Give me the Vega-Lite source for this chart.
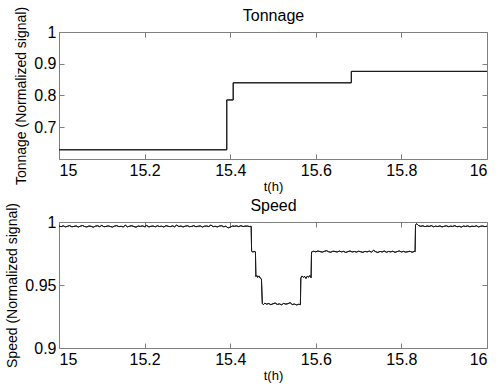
{
  "$schema": "https://vega.github.io/schema/vega-lite/v6.json",
  "padding": {"left": 5, "top": 5, "right": 0, "bottom": 2},
  "bounds": "flush",
  "spacing": 63,
  "background": "white",
  "datasets": {
    "tonnage": [
      {"t": 15.000, "v": 0.629},
      {"t": 15.392, "v": 0.786},
      {"t": 15.407, "v": 0.840},
      {"t": 15.683, "v": 0.876},
      {"t": 16.000, "v": 0.876}
    ],
    "speed": [
      {"t": 15.000, "v": 0.9968}, {"t": 15.005, "v": 0.9963}, {"t": 15.010, "v": 0.9970}, {"t": 15.015, "v": 0.9961},
      {"t": 15.020, "v": 0.9966}, {"t": 15.025, "v": 0.9971}, {"t": 15.030, "v": 0.9962}, {"t": 15.035, "v": 0.9965},
      {"t": 15.040, "v": 0.9969}, {"t": 15.045, "v": 0.9960}, {"t": 15.050, "v": 0.9967}, {"t": 15.055, "v": 0.9972},
      {"t": 15.060, "v": 0.9964}, {"t": 15.065, "v": 0.9961}, {"t": 15.070, "v": 0.9968}, {"t": 15.075, "v": 0.9966},
      {"t": 15.080, "v": 0.9959}, {"t": 15.085, "v": 0.9967}, {"t": 15.090, "v": 0.9970}, {"t": 15.095, "v": 0.9963},
      {"t": 15.100, "v": 0.9973}, {"t": 15.105, "v": 0.9962}, {"t": 15.110, "v": 0.9965}, {"t": 15.115, "v": 0.9969},
      {"t": 15.120, "v": 0.9964}, {"t": 15.125, "v": 0.9960}, {"t": 15.130, "v": 0.9968}, {"t": 15.135, "v": 0.9971},
      {"t": 15.140, "v": 0.9963}, {"t": 15.145, "v": 0.9966}, {"t": 15.150, "v": 0.9961}, {"t": 15.155, "v": 0.9974},
      {"t": 15.160, "v": 0.9962}, {"t": 15.165, "v": 0.9967}, {"t": 15.170, "v": 0.9970}, {"t": 15.175, "v": 0.9964},
      {"t": 15.180, "v": 0.9959}, {"t": 15.185, "v": 0.9968}, {"t": 15.190, "v": 0.9965}, {"t": 15.195, "v": 0.9969},
      {"t": 15.200, "v": 0.9963}, {"t": 15.205, "v": 0.9972}, {"t": 15.210, "v": 0.9961}, {"t": 15.215, "v": 0.9966},
      {"t": 15.220, "v": 0.9968}, {"t": 15.225, "v": 0.9962}, {"t": 15.230, "v": 0.9970}, {"t": 15.235, "v": 0.9964},
      {"t": 15.240, "v": 0.9967}, {"t": 15.245, "v": 0.9960}, {"t": 15.250, "v": 0.9971}, {"t": 15.255, "v": 0.9966},
      {"t": 15.260, "v": 0.9963}, {"t": 15.265, "v": 0.9969}, {"t": 15.270, "v": 0.9962}, {"t": 15.275, "v": 0.9975},
      {"t": 15.280, "v": 0.9964}, {"t": 15.285, "v": 0.9968}, {"t": 15.290, "v": 0.9961}, {"t": 15.295, "v": 0.9967},
      {"t": 15.300, "v": 0.9970}, {"t": 15.305, "v": 0.9963}, {"t": 15.310, "v": 0.9965}, {"t": 15.315, "v": 0.9971},
      {"t": 15.320, "v": 0.9962}, {"t": 15.325, "v": 0.9966}, {"t": 15.330, "v": 0.9969}, {"t": 15.335, "v": 0.9960},
      {"t": 15.340, "v": 0.9967}, {"t": 15.345, "v": 0.9968}, {"t": 15.350, "v": 0.9964}, {"t": 15.355, "v": 0.9976},
      {"t": 15.360, "v": 0.9963}, {"t": 15.365, "v": 0.9966}, {"t": 15.370, "v": 0.9961}, {"t": 15.375, "v": 0.9968},
      {"t": 15.380, "v": 0.9970}, {"t": 15.385, "v": 0.9962}, {"t": 15.390, "v": 0.9967}, {"t": 15.395, "v": 0.9953},
      {"t": 15.400, "v": 0.9959}, {"t": 15.405, "v": 0.9968}, {"t": 15.410, "v": 0.9966}, {"t": 15.415, "v": 0.9969},
      {"t": 15.420, "v": 0.9963}, {"t": 15.425, "v": 0.9971}, {"t": 15.430, "v": 0.9964}, {"t": 15.435, "v": 0.9967},
      {"t": 15.440, "v": 0.9968}, {"t": 15.445, "v": 0.9964}, {"t": 15.449, "v": 0.9966},
      {"t": 15.450, "v": 0.9768}, {"t": 15.453, "v": 0.9762}, {"t": 15.456, "v": 0.9766}, {"t": 15.459, "v": 0.9763},
      {"t": 15.460, "v": 0.9568}, {"t": 15.462, "v": 0.9575}, {"t": 15.464, "v": 0.9560}, {"t": 15.467, "v": 0.9572},
      {"t": 15.470, "v": 0.9555}, {"t": 15.473, "v": 0.9548},
      {"t": 15.475, "v": 0.9352}, {"t": 15.478, "v": 0.9345}, {"t": 15.481, "v": 0.9356}, {"t": 15.485, "v": 0.9348},
      {"t": 15.490, "v": 0.9353}, {"t": 15.495, "v": 0.9344}, {"t": 15.500, "v": 0.9351}, {"t": 15.505, "v": 0.9357},
      {"t": 15.510, "v": 0.9346}, {"t": 15.515, "v": 0.9350}, {"t": 15.520, "v": 0.9343}, {"t": 15.525, "v": 0.9354},
      {"t": 15.530, "v": 0.9348}, {"t": 15.535, "v": 0.9352}, {"t": 15.540, "v": 0.9360}, {"t": 15.545, "v": 0.9345},
      {"t": 15.550, "v": 0.9349}, {"t": 15.555, "v": 0.9342}, {"t": 15.560, "v": 0.9347}, {"t": 15.564, "v": 0.9344},
      {"t": 15.565, "v": 0.9555}, {"t": 15.568, "v": 0.9572}, {"t": 15.571, "v": 0.9560}, {"t": 15.574, "v": 0.9568},
      {"t": 15.577, "v": 0.9552}, {"t": 15.580, "v": 0.9570}, {"t": 15.583, "v": 0.9562}, {"t": 15.586, "v": 0.9575},
      {"t": 15.589, "v": 0.9558},
      {"t": 15.590, "v": 0.9762}, {"t": 15.595, "v": 0.9768}, {"t": 15.600, "v": 0.9763}, {"t": 15.605, "v": 0.9770},
      {"t": 15.610, "v": 0.9765}, {"t": 15.615, "v": 0.9761}, {"t": 15.620, "v": 0.9767}, {"t": 15.625, "v": 0.9772},
      {"t": 15.630, "v": 0.9764}, {"t": 15.635, "v": 0.9760}, {"t": 15.640, "v": 0.9768}, {"t": 15.645, "v": 0.9766},
      {"t": 15.650, "v": 0.9762}, {"t": 15.655, "v": 0.9769}, {"t": 15.660, "v": 0.9763}, {"t": 15.665, "v": 0.9767},
      {"t": 15.670, "v": 0.9758}, {"t": 15.675, "v": 0.9765}, {"t": 15.680, "v": 0.9770}, {"t": 15.685, "v": 0.9762},
      {"t": 15.690, "v": 0.9766}, {"t": 15.695, "v": 0.9761}, {"t": 15.700, "v": 0.9768}, {"t": 15.705, "v": 0.9764},
      {"t": 15.710, "v": 0.9759}, {"t": 15.715, "v": 0.9767}, {"t": 15.720, "v": 0.9763}, {"t": 15.725, "v": 0.9769},
      {"t": 15.730, "v": 0.9761}, {"t": 15.735, "v": 0.9775}, {"t": 15.740, "v": 0.9764}, {"t": 15.745, "v": 0.9758},
      {"t": 15.750, "v": 0.9767}, {"t": 15.755, "v": 0.9762}, {"t": 15.760, "v": 0.9770}, {"t": 15.765, "v": 0.9760},
      {"t": 15.770, "v": 0.9766}, {"t": 15.775, "v": 0.9763}, {"t": 15.780, "v": 0.9768}, {"t": 15.785, "v": 0.9759},
      {"t": 15.790, "v": 0.9765}, {"t": 15.795, "v": 0.9770}, {"t": 15.800, "v": 0.9762}, {"t": 15.805, "v": 0.9767},
      {"t": 15.810, "v": 0.9761}, {"t": 15.815, "v": 0.9764}, {"t": 15.820, "v": 0.9768}, {"t": 15.825, "v": 0.9760},
      {"t": 15.830, "v": 0.9766}, {"t": 15.832, "v": 0.9764},
      {"t": 15.833, "v": 0.9978}, {"t": 15.836, "v": 0.9986}, {"t": 15.840, "v": 0.9972}, {"t": 15.845, "v": 0.9966},
      {"t": 15.850, "v": 0.9970}, {"t": 15.855, "v": 0.9963}, {"t": 15.860, "v": 0.9968}, {"t": 15.865, "v": 0.9965},
      {"t": 15.870, "v": 0.9971}, {"t": 15.875, "v": 0.9962}, {"t": 15.880, "v": 0.9967}, {"t": 15.885, "v": 0.9964},
      {"t": 15.890, "v": 0.9969}, {"t": 15.895, "v": 0.9961}, {"t": 15.900, "v": 0.9966}, {"t": 15.905, "v": 0.9970},
      {"t": 15.910, "v": 0.9963}, {"t": 15.915, "v": 0.9967}, {"t": 15.920, "v": 0.9965}, {"t": 15.925, "v": 0.9971},
      {"t": 15.930, "v": 0.9962}, {"t": 15.935, "v": 0.9966}, {"t": 15.940, "v": 0.9960}, {"t": 15.945, "v": 0.9968},
      {"t": 15.950, "v": 0.9965}, {"t": 15.955, "v": 0.9969}, {"t": 15.960, "v": 0.9962}, {"t": 15.965, "v": 0.9967},
      {"t": 15.970, "v": 0.9964}, {"t": 15.975, "v": 0.9970}, {"t": 15.980, "v": 0.9961}, {"t": 15.985, "v": 0.9966},
      {"t": 15.990, "v": 0.9968}, {"t": 15.995, "v": 0.9963}, {"t": 16.000, "v": 0.9967}
    ]
  },
  "vconcat": [
    {
      "width": 428,
      "height": 127,
      "data": {"name": "tonnage"},
      "resolve": {"axis": {"x": "independent", "y": "independent"}},
      "layer": [
        {
          "mark": {"type": "line", "interpolate": "step-after", "color": "#1a1a1a", "strokeWidth": 1},
          "encoding": {
            "x": {"field": "t", "type": "quantitative", "scale": {"domain": [15, 16], "nice": false, "zero": false},
                  "axis": {"values": [15, 15.2, 15.4, 15.6, 15.8, 16], "format": "~g", "title": "t(h)", "titleFontSize": 13, "titlePadding": 2}},
            "y": {"field": "v", "type": "quantitative", "scale": {"domain": [0.6, 1], "nice": false, "zero": false},
                  "axis": {"values": [0.7, 0.8, 0.9, 1], "format": "~g", "title": "Tonnage (Normalized signal)", "titlePadding": 5}}
          }
        },
        {
          "mark": {"type": "line", "interpolate": "step-after", "color": "#1a1a1a", "strokeWidth": 1},
          "encoding": {
            "x": {"field": "t", "type": "quantitative", "axis": {"orient": "top", "values": [15, 15.2, 15.4, 15.6, 15.8, 16], "labels": false, "title": "Tonnage", "titleFontSize": 16, "titlePadding": 8}},
            "y": {"field": "v", "type": "quantitative", "axis": {"orient": "right", "values": [0.7, 0.8, 0.9, 1], "labels": false, "title": null}}
          }
        }
      ]
    },
    {
      "width": 428,
      "height": 126,
      "data": {"name": "speed"},
      "resolve": {"axis": {"x": "independent", "y": "independent"}},
      "layer": [
        {
          "mark": {"type": "line", "color": "#1a1a1a", "strokeWidth": 1},
          "encoding": {
            "x": {"field": "t", "type": "quantitative", "scale": {"domain": [15, 16], "nice": false, "zero": false},
                  "axis": {"values": [15, 15.2, 15.4, 15.6, 15.8, 16], "format": "~g", "title": "t(h)", "titleFontSize": 13, "titlePadding": 2}},
            "y": {"field": "v", "type": "quantitative", "scale": {"domain": [0.9, 1], "nice": false, "zero": false},
                  "axis": {"values": [0.9, 0.95, 1], "format": "~g", "title": "Speed (Normalized signal)", "titlePadding": 5}}
          }
        },
        {
          "mark": {"type": "line", "color": "#1a1a1a", "strokeWidth": 1},
          "encoding": {
            "x": {"field": "t", "type": "quantitative", "axis": {"orient": "top", "values": [15, 15.2, 15.4, 15.6, 15.8, 16], "labels": false, "title": "Speed", "titleFontSize": 16, "titlePadding": 8}},
            "y": {"field": "v", "type": "quantitative", "axis": {"orient": "right", "values": [0.9, 0.95, 1], "labels": false, "title": null}}
          }
        }
      ]
    }
  ],
  "config": {
    "font": "Liberation Sans",
    "view": {"stroke": "#7f7f7f", "strokeWidth": 1},
    "axis": {
      "grid": false,
      "domain": false,
      "tickColor": "#7f7f7f",
      "tickSize": -5,
      "labelFontSize": 16,
      "labelColor": "#000000",
      "labelPadding": 8,
      "titleFontSize": 14,
      "titleFontWeight": "normal",
      "titleColor": "#000000"
    }
  }
}
